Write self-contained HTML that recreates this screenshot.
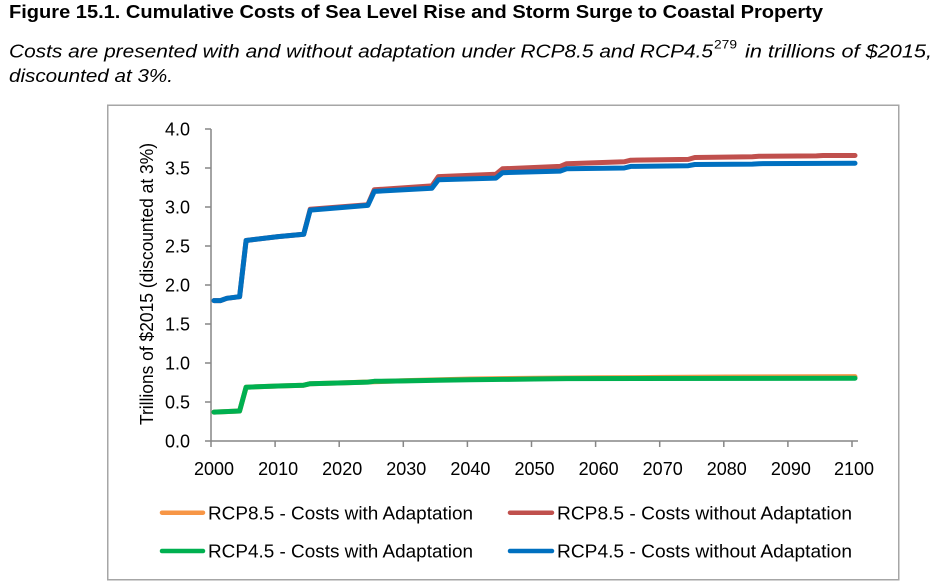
<!DOCTYPE html>
<html>
<head>
<meta charset="utf-8">
<style>
  html, body { margin: 0; padding: 0; background: #ffffff; }
  svg { display: block; }
  .t { font-family: "Liberation Sans", "DejaVu Sans", sans-serif; fill: #000; }
</style>
</head>
<body>
<svg width="936" height="585" viewBox="0 0 936 585" xmlns="http://www.w3.org/2000/svg">
  <rect x="0" y="0" width="936" height="585" fill="#ffffff"/>

  <!-- Title -->
  <text class="t" x="9" y="18" font-size="18.5" font-weight="bold" textLength="814" lengthAdjust="spacingAndGlyphs">Figure 15.1.  Cumulative Costs of Sea Level Rise and Storm Surge to Coastal Property</text>

  <!-- Subtitle -->
  <text class="t" x="9" y="57.5" font-size="18.5" font-style="italic" textLength="704" lengthAdjust="spacingAndGlyphs">Costs are presented with and without adaptation under RCP8.5 and RCP4.5</text>
  <text class="t" x="714" y="48.5" font-size="12" textLength="23" lengthAdjust="spacingAndGlyphs">279</text>
  <text class="t" x="745" y="57.5" font-size="18.5" font-style="italic" textLength="187" lengthAdjust="spacingAndGlyphs">in trillions of $2015,</text>
  <text class="t" x="9" y="82" font-size="18.5" font-style="italic" textLength="164" lengthAdjust="spacingAndGlyphs">discounted at 3%.</text>

  <!-- Chart border -->
  <rect x="107.75" y="105.25" width="791" height="474.5" fill="none" stroke="#a6a6a6" stroke-width="1.5"/>

  <!-- Axes -->
  <g stroke="#868686" stroke-width="1.5" fill="none">
    <line x1="211" y1="129" x2="211" y2="441"/>
    <line x1="211" y1="441" x2="858" y2="441"/>
    <!-- y ticks -->
    <line x1="205" y1="129" x2="211" y2="129"/>
    <line x1="205" y1="168" x2="211" y2="168"/>
    <line x1="205" y1="207" x2="211" y2="207"/>
    <line x1="205" y1="246" x2="211" y2="246"/>
    <line x1="205" y1="285" x2="211" y2="285"/>
    <line x1="205" y1="324" x2="211" y2="324"/>
    <line x1="205" y1="363" x2="211" y2="363"/>
    <line x1="205" y1="402" x2="211" y2="402"/>
    <line x1="205" y1="441" x2="211" y2="441"/>
    <!-- x ticks -->
    <line x1="211" y1="441" x2="211" y2="447"/>
    <line x1="275.1" y1="441" x2="275.1" y2="447"/>
    <line x1="339.2" y1="441" x2="339.2" y2="447"/>
    <line x1="403.3" y1="441" x2="403.3" y2="447"/>
    <line x1="467.4" y1="441" x2="467.4" y2="447"/>
    <line x1="531.5" y1="441" x2="531.5" y2="447"/>
    <line x1="595.6" y1="441" x2="595.6" y2="447"/>
    <line x1="659.7" y1="441" x2="659.7" y2="447"/>
    <line x1="723.8" y1="441" x2="723.8" y2="447"/>
    <line x1="787.9" y1="441" x2="787.9" y2="447"/>
    <line x1="852" y1="441" x2="852" y2="447"/>
  </g>

  <!-- Y tick labels -->
  <g class="t" font-size="18" text-anchor="end">
    <text x="190" y="135.3">4.0</text>
    <text x="190" y="174.3">3.5</text>
    <text x="190" y="213.3">3.0</text>
    <text x="190" y="252.3">2.5</text>
    <text x="190" y="291.3">2.0</text>
    <text x="190" y="330.3">1.5</text>
    <text x="190" y="369.3">1.0</text>
    <text x="190" y="408.3">0.5</text>
    <text x="190" y="447.3">0.0</text>
  </g>

  <!-- X tick labels -->
  <g class="t" font-size="18" text-anchor="middle">
    <text x="214" y="475">2000</text>
    <text x="278.1" y="475">2010</text>
    <text x="342.2" y="475">2020</text>
    <text x="406.3" y="475">2030</text>
    <text x="470.4" y="475">2040</text>
    <text x="534.5" y="475">2050</text>
    <text x="598.6" y="475">2060</text>
    <text x="662.7" y="475">2070</text>
    <text x="726.8" y="475">2080</text>
    <text x="790.9" y="475">2090</text>
    <text x="854" y="475">2100</text>
  </g>

  <!-- Y axis title -->
  <text class="t" font-size="18" text-anchor="middle" transform="translate(153,284) rotate(-90)" textLength="282" lengthAdjust="spacingAndGlyphs">Trillions of $2015 (discounted at 3%)</text>

  <!-- Series -->
  <g fill="none" stroke-width="5" stroke-linejoin="round" stroke-linecap="round" transform="translate(3,0)">
    <!-- RCP8.5 with adaptation (orange) -->
    <polyline stroke="#F79646" points="211,412.1 236.6,411.0 243.1,387.2 275.1,386.0 300.7,385.2 307.2,383.7 339.2,382.9 403.3,380.6 467.4,379.0 531.5,378.2 595.6,377.8 659.7,377.4 723.8,377.0 852,376.6"/>
    <!-- RCP8.5 without adaptation (red) -->
    <polyline stroke="#C0504D" points="211,300.6 217.4,300.6 223.8,298.3 236.6,296.7 243.1,240.5 275.1,236.6 300.7,234.3 307.2,209.3 364.8,204.7 371.3,189.8 428.9,185.9 435.4,176.6 493.0,174.2 499.5,168.8 557.1,166.4 563.6,163.7 621.2,161.8 627.7,160.2 685.3,159.4 691.8,157.5 749.4,156.7 755.9,156.3 813.5,155.9 820.0,155.5 852,155.5"/>
    <!-- RCP4.5 with adaptation (green) -->
    <polyline stroke="#00B050" points="211,412.1 236.6,411.0 243.1,387.2 275.1,386.0 300.7,385.2 307.2,383.7 339.2,382.9 364.8,382.1 371.3,381.3 403.3,380.9 435.4,380.2 467.4,379.8 499.5,379.4 531.5,379.0 563.6,378.6 852,378.2"/>
    <!-- RCP4.5 without adaptation (blue) -->
    <polyline stroke="#0070C0" points="211,300.6 217.4,300.6 223.8,298.3 236.6,296.7 243.1,240.5 275.1,236.6 300.7,234.3 307.2,210.1 364.8,205.4 371.3,191.4 428.9,188.3 435.4,179.7 493.0,178.1 499.5,172.7 557.1,171.1 563.6,168.8 621.2,168.0 627.7,166.4 685.3,165.7 691.8,164.5 749.4,164.1 755.9,163.7 852,163.3"/>
  </g>

  <!-- Legend -->
  <g stroke-width="4.5" stroke-linecap="round">
    <line x1="162" y1="512.7" x2="203" y2="512.7" stroke="#F79646"/>
    <line x1="510" y1="512.7" x2="552" y2="512.7" stroke="#C0504D"/>
    <line x1="162" y1="551" x2="203" y2="551" stroke="#00B050"/>
    <line x1="510" y1="551" x2="552" y2="551" stroke="#0070C0"/>
  </g>
  <g class="t" font-size="18.5">
    <text x="208" y="519.5" textLength="265" lengthAdjust="spacingAndGlyphs">RCP8.5 - Costs with Adaptation</text>
    <text x="557" y="519.5" textLength="295" lengthAdjust="spacingAndGlyphs">RCP8.5 - Costs without Adaptation</text>
    <text x="208" y="557.7" textLength="265" lengthAdjust="spacingAndGlyphs">RCP4.5 - Costs with Adaptation</text>
    <text x="557" y="557.7" textLength="295" lengthAdjust="spacingAndGlyphs">RCP4.5 - Costs without Adaptation</text>
  </g>
</svg>
</body>
</html>
